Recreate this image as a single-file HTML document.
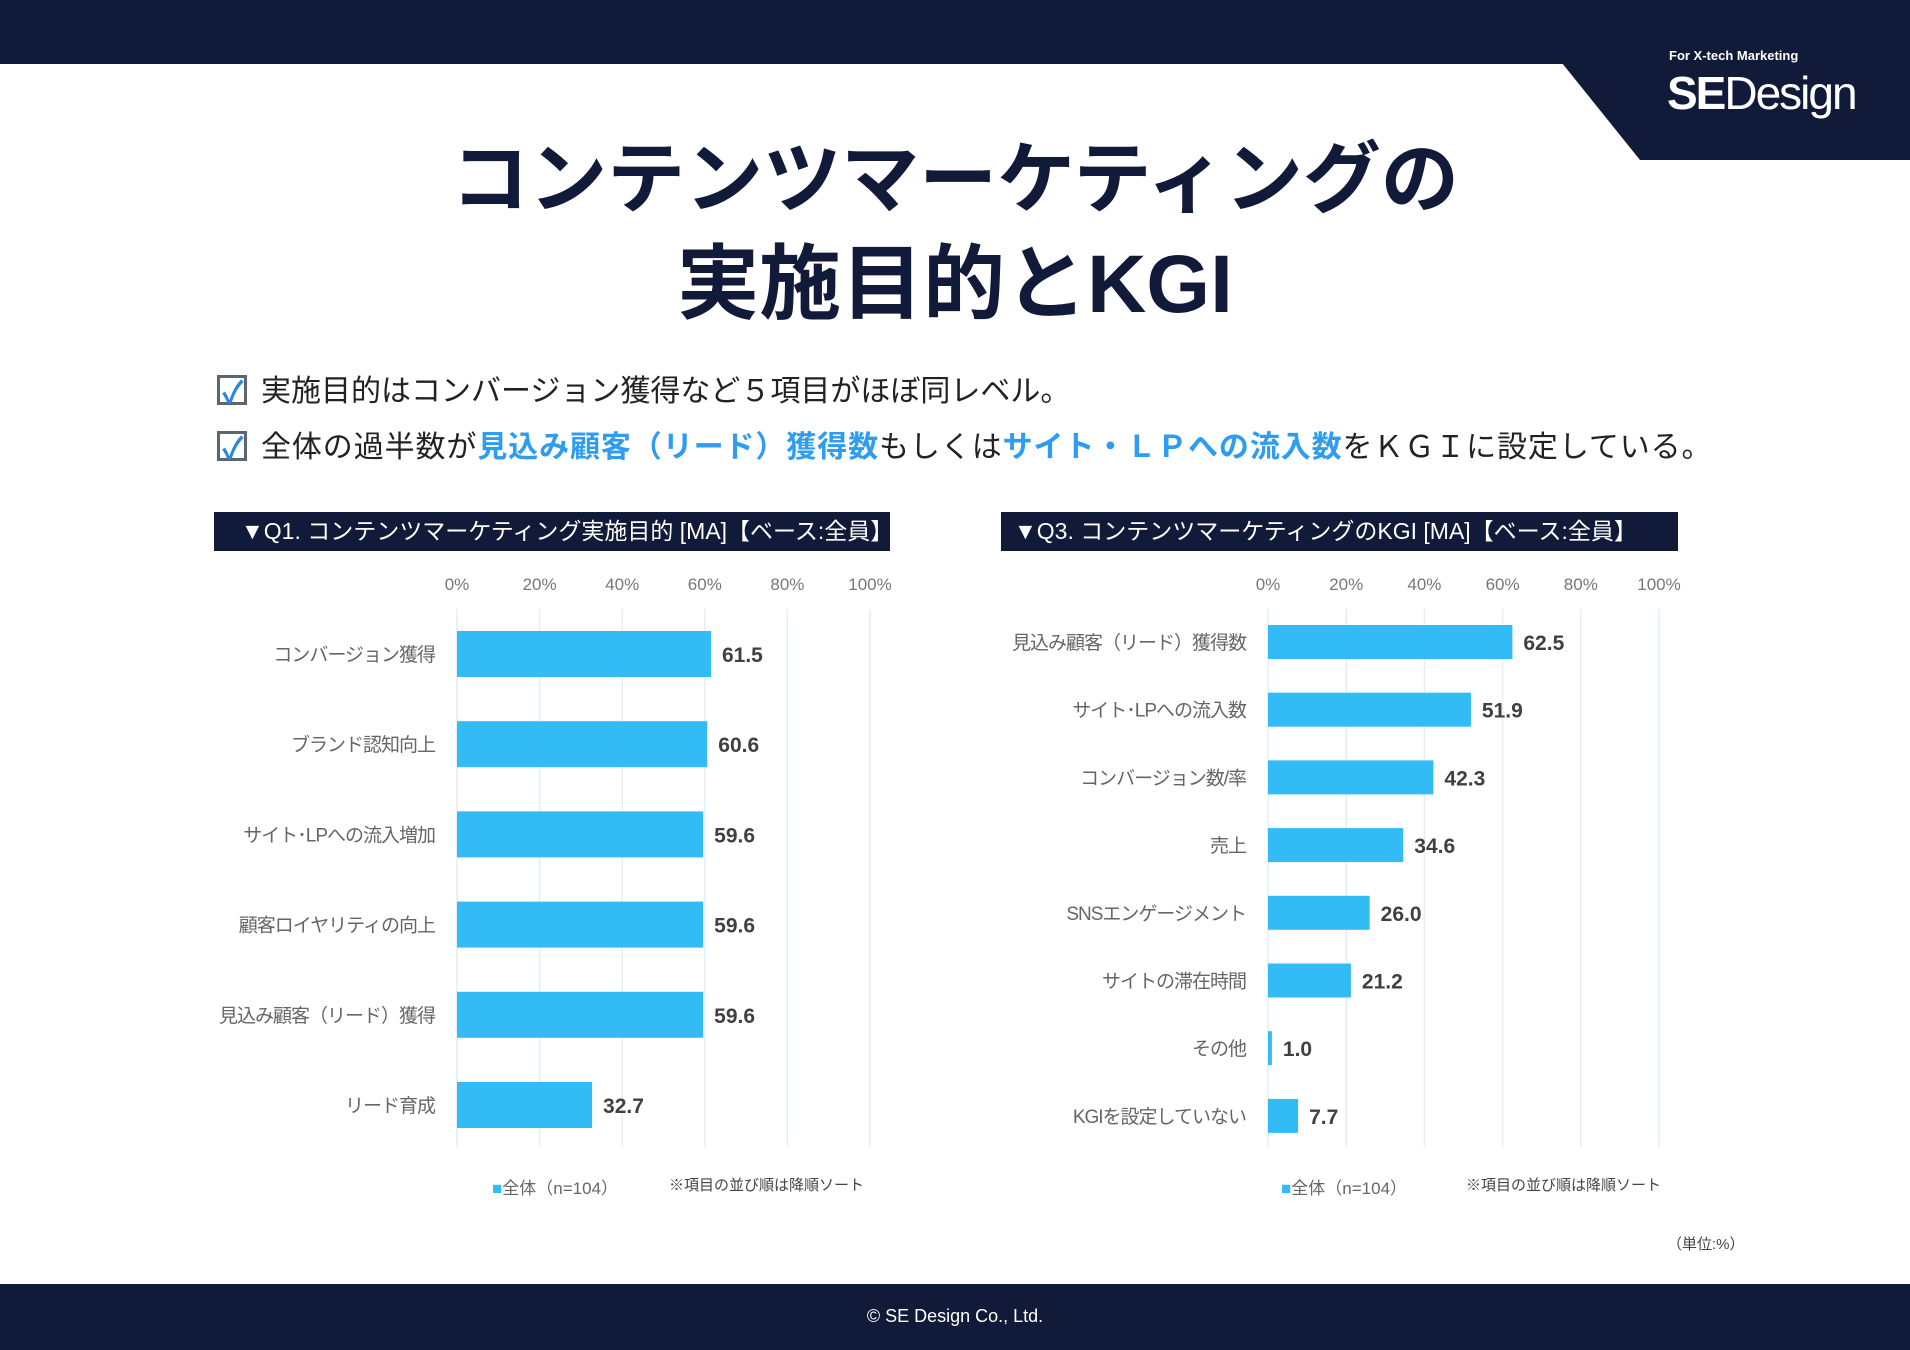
<!DOCTYPE html>
<html><head><meta charset="utf-8">
<style>
body{margin:0;width:1910px;height:1350px;position:relative;background:#fff;overflow:hidden;font-family:"Liberation Sans","Noto Sans CJK JP",sans-serif;}
.abs{position:absolute;}
</style></head>
<body>
<svg class="abs" style="left:0;top:0" width="1910" height="1350">
<rect x="0" y="0" width="1910" height="64" fill="#111a38"/>
<polygon points="1562,63 1910,63 1910,160 1640,160" fill="#111a38"/>
<rect x="0" y="1284" width="1910" height="66" fill="#111a38"/>
</svg>
<div class="abs" style="left:1669px;top:48px;color:#fff;font-size:13px;font-weight:bold;">For X-tech Marketing</div>
<div class="abs" style="left:1667px;top:66px;color:#fff;font-size:46px;letter-spacing:-2px;"><b>SE</b>Design</div>
<div class="abs" style="left:0;width:1910px;top:126px;text-align:center;color:#111a38;font-size:78px;font-weight:bold;line-height:106px;">コンテンツマーケティングの<br><span style="font-size:82px">実施目的とKGI</span></div>

<div class="abs" style="left:217px;top:366px;font-size:30px;color:#222;white-space:nowrap;">
<span style="display:inline-block;width:30px;height:30px;border:3px solid #5a6670;box-sizing:border-box;vertical-align:-4px;margin-right:14px;position:relative;"><span style="position:absolute;left:2px;top:-10px;color:#2a86e0;font-size:30px;font-weight:bold;">✓</span></span>実施目的はコンバージョン獲得など５項目がほぼ同レベル。</div>
<div class="abs" style="left:217px;top:422px;font-size:30px;color:#222;white-space:nowrap;letter-spacing:0.9px;">
<span style="display:inline-block;width:30px;height:30px;border:3px solid #5a6670;box-sizing:border-box;vertical-align:-4px;margin-right:14px;position:relative;"><span style="position:absolute;left:2px;top:-10px;color:#2a86e0;font-size:30px;font-weight:bold;">✓</span></span>全体の過半数が<b style="color:#2e9cf0">見込み顧客（リード）獲得数</b>もしくは<b style="color:#2e9cf0">サイト・ＬＰへの流入数</b>をＫＧＩに設定している。</div>

<div class="abs" style="left:214px;top:512px;width:676px;height:39px;background:#111a38;color:#fff;font-size:23px;line-height:39px;padding-left:27px;box-sizing:border-box;white-space:nowrap;">▼Q1. コンテンツマーケティング実施目的 [MA]【ベース:全員】</div>
<div class="abs" style="left:1001px;top:512px;width:677px;height:39px;background:#111a38;color:#fff;font-size:23px;line-height:39px;padding-left:13px;box-sizing:border-box;white-space:nowrap;">▼Q3. コンテンツマーケティングのKGI [MA]【ベース:全員】</div>

<svg id="chart" class="abs" style="left:0;top:0" width="1910" height="1350"></svg>

<div class="abs" style="left:492px;top:1174px;font-size:17px;color:#666;"><span style="color:#33bbf5">■</span>全体（n=104）</div>
<div class="abs" style="left:669px;top:1174px;font-size:15px;color:#444;">※項目の並び順は降順ソート</div>
<div class="abs" style="left:1281px;top:1174px;font-size:17px;color:#666;"><span style="color:#33bbf5">■</span>全体（n=104）</div>
<div class="abs" style="left:1466px;top:1174px;font-size:15px;color:#444;">※項目の並び順は降順ソート</div>
<div class="abs" style="left:1667px;top:1233px;font-size:15px;color:#444;">（単位:%）</div>
<div class="abs" style="left:0;width:1910px;top:1306px;text-align:center;font-size:18px;color:#fff;">© SE Design Co., Ltd.</div>

<script>
const q1Categories=["コンバージョン獲得","ブランド認知向上","サイト･LPへの流入増加","顧客ロイヤリティの向上","見込み顧客（リード）獲得","リード育成"];
const q1Values=[61.5,60.6,59.6,59.6,59.6,32.7];
const q3Categories=["見込み顧客（リード）獲得数","サイト･LPへの流入数","コンバージョン数/率","売上","SNSエンゲージメント","サイトの滞在時間","その他","KGIを設定していない"];
const q3Values=[62.5,51.9,42.3,34.6,26.0,21.2,1.0,7.7];
const tickValues=[0,20,40,60,80,100];
const tickLabels=["0%","20%","40%","60%","80%","100%"];
const NS="http://www.w3.org/2000/svg";
const svg=document.getElementById('chart');
function mk(tag,attrs,text){const e=document.createElementNS(NS,tag);for(const k in attrs)e.setAttribute(k,attrs[k]);if(text!==undefined)e.textContent=text;svg.appendChild(e);return e;}
function drawChart(id,cats,vals,x0,x1,yTop,yBot,firstC,pitch,barH,labelX){
  const xs=v=>x0+(x1-x0)*v/100;
  const yc=i=>firstC+i*pitch;
  tickValues.forEach((t,i)=>{
    const l=mk('line',{x1:xs(t),x2:xs(t),y1:yTop,y2:yBot,stroke:'#e3eef5','stroke-width':1.5});
    
    
    const tx=mk('text',{x:xs(t),y:590,'text-anchor':'middle','font-size':17,fill:'#777'},tickLabels[i]);
    
    
  });
  cats.forEach((c,i)=>{
    const r=mk('rect',{x:xs(0),y:yc(i)-barH/2,width:xs(vals[i])-xs(0),height:barH,fill:'#33bbf5'});
    
    
    const lb=mk('text',{x:labelX,y:yc(i)+7,'text-anchor':'end','font-size':19,'letter-spacing':-1,fill:'#666'},c);
    
    
    const vl=mk('text',{x:xs(vals[i])+11,y:yc(i)+8,'font-size':21,'font-weight':'bold',fill:'#404040'},vals[i].toFixed(1));
    
    
  });
}
drawChart('q1',q1Categories,q1Values,457,870,609,1147,654,90.2,46,435);
drawChart('q3',q3Categories,q3Values,1268,1659,609,1147,642,67.7,34,1246);
</script>
</body></html>
